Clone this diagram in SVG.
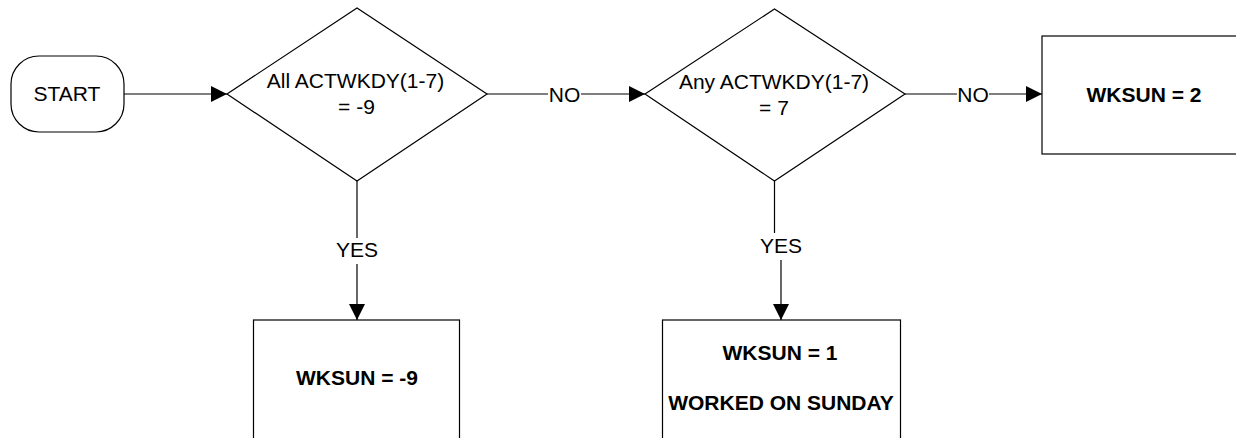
<svg xmlns="http://www.w3.org/2000/svg" width="1236" height="438" viewBox="0 0 1236 438">
<style>
.s{fill:#fff;stroke:#000;stroke-width:1.2}
.l{fill:none;stroke:#000;stroke-width:1.2}
text{font-family:"Liberation Sans",Arial,sans-serif;font-size:21px;fill:#000;text-anchor:middle}
.b{font-weight:bold}
</style>
<defs>
<marker id="ah" markerWidth="16" markerHeight="16" viewBox="0 0 16 16" refX="16" refY="8" orient="auto" markerUnits="userSpaceOnUse">
<path d="M0,0 L16,8 L0,16 Z" fill="#000"/>
</marker>
</defs>
<rect width="1236" height="438" fill="#fff"/>
<g id="connectors">
<line class="l" x1="124" y1="94" x2="227" y2="94" marker-end="url(#ah)"/>
<line class="l" x1="487" y1="94" x2="548" y2="94"/>
<line class="l" x1="581" y1="94" x2="645" y2="94" marker-end="url(#ah)"/>
<text x="564.5" y="101.5">NO</text>
<line class="l" x1="905" y1="94" x2="957" y2="94"/>
<line class="l" x1="989" y1="94" x2="1042" y2="94" marker-end="url(#ah)"/>
<text x="973" y="101.5">NO</text>
<line class="l" x1="357" y1="181" x2="357" y2="238"/>
<line class="l" x1="357" y1="264" x2="357" y2="320" marker-end="url(#ah)"/>
<text x="357" y="257">YES</text>
<line class="l" x1="774.5" y1="181" x2="774.5" y2="233"/>
<line class="l" x1="781" y1="260" x2="781" y2="320" marker-end="url(#ah)"/>
<text x="781" y="253">YES</text>
</g>
<g id="start">
<rect class="s" x="11" y="56" width="113" height="76" rx="28" ry="28"/>
<text x="67" y="101">START</text>
</g>
<g id="decision1">
<polygon class="s" points="227,94 357,8 487,94 357,181"/>
<text x="355.5" y="87.5">All ACTWKDY(1-7)</text>
<text x="356.5" y="114">= -9</text>
</g>
<g id="decision2">
<polygon class="s" points="645,94 774.5,9 905,94 774.5,181"/>
<text x="774" y="89">Any ACTWKDY(1-7)</text>
<text x="774" y="115">= 7</text>
</g>
<g id="wksun2">
<rect class="s" x="1042" y="36" width="204" height="118"/>
<text class="b" x="1144" y="101.5">WKSUN = 2</text>
</g>
<g id="wksunm9">
<rect class="s" x="253.5" y="320" width="206" height="130"/>
<text class="b" x="357" y="385">WKSUN = -9</text>
</g>
<g id="wksun1">
<rect class="s" x="662.5" y="320" width="238" height="130"/>
<text class="b" x="780" y="360">WKSUN = 1</text>
<text class="b" x="781" y="410">WORKED ON SUNDAY</text>
</g>
</svg>
